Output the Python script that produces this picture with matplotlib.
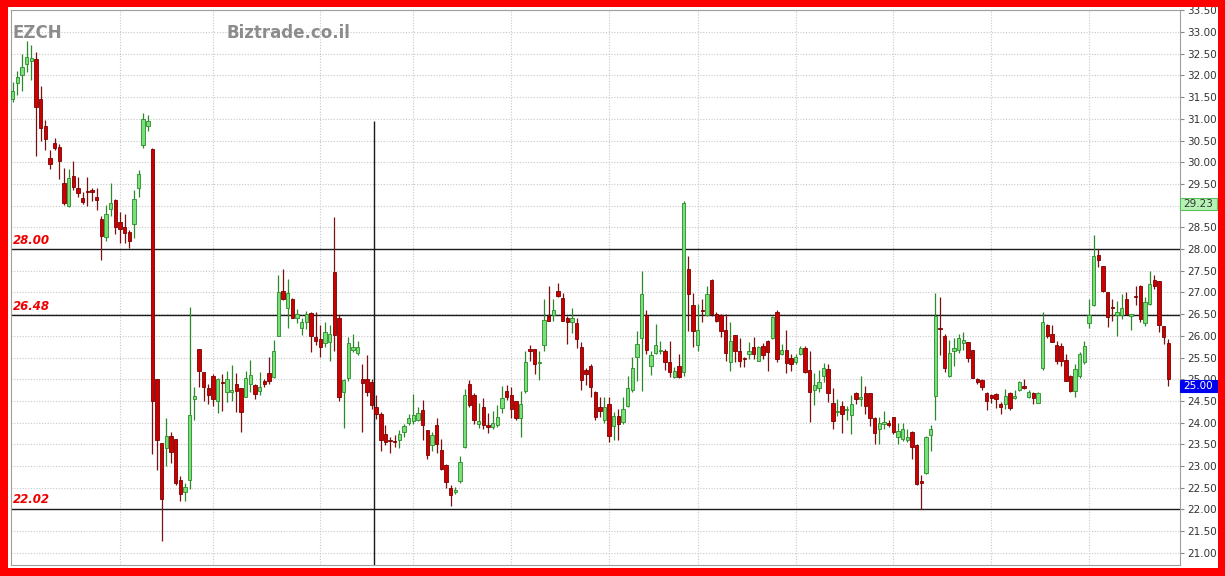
import matplotlib
matplotlib.use("Agg")
import matplotlib.pyplot as plt
from matplotlib.patches import Rectangle
import matplotlib.transforms as mtransforms
import numpy as np

symbol = "EZCH"
site = "Biztrade.co.il"

opens = [31.46,31.83,32.00,32.27,32.34,32.39,31.46,30.84,30.10,30.44, 30.36,29.53,29.00,29.68,29.40,29.18,29.34,29.35,29.19,28.69,
 28.28,28.92,29.13,28.62,28.50,28.39,28.58,29.40,30.39,30.84, 30.31,25.00,23.53,23.41,23.69,23.62,22.68,22.41,22.68,24.55,
 25.70,25.16,24.81,25.07,24.51,24.93,24.70,24.70,24.88,24.81, 24.60,24.90,24.87,24.74,24.97,25.15,25.05,26.00,27.04,26.64,
 26.84,26.40,26.17,26.33,26.53,25.97,25.93,25.83,25.85,27.46, 26.41,24.70,25.02,25.68,25.61,25.01,25.01,24.93,24.37,24.20,
 23.74,23.61,23.57,23.61,23.78,23.99,24.03,24.05,24.30,23.82, 23.49,23.95,23.36,23.02,22.49,22.40,22.65,23.43,24.90,24.64,
 23.97,24.36,23.92,23.90,23.95,24.33,24.74,24.64,24.49,24.10, 24.74,25.69,25.69,25.38,25.80,26.46,26.47,27.04,26.88,26.42,
 26.32,26.29,25.75,25.22,25.31,24.70,24.37,24.06,24.43,23.92, 24.16,24.01,24.39,24.76,25.51,25.94,26.48,25.31,25.61,25.64,
 25.64,25.39,25.05,25.31,25.16,27.55,26.71,25.79,26.59,26.47, 27.29,26.50,26.48,26.14,25.39,26.02,25.66,25.47,25.58,25.74,
 25.43,25.76,25.89,25.94,26.56,25.58,25.68,25.50,25.40,25.58, 25.73,25.22,24.76,24.79,25.08,25.23,24.46,24.25,24.39,24.29,
 24.17,24.68,24.54,24.68,24.68,24.10,23.85,23.97,24.00,24.12, 23.68,23.63,23.60,23.79,23.48,22.66,22.85,23.71,24.62,26.19,
 25.99,25.08,25.65,25.68,25.83,25.85,25.68,25.00,24.99,24.69, 24.64,24.66,24.43,24.43,24.68,24.56,24.76,24.85,24.58,24.69,
 24.46,25.27,26.25,26.04,25.79,25.76,25.45,25.08,24.72,25.07, 25.39,26.30,26.71,27.86,27.60,27.00,26.66,26.48,26.48,26.85,
 26.45,26.91,27.14,26.30,26.73,27.29,27.27,26.22,25.84]

highs = [31.86,32.11,32.49,32.79,32.70,32.53,31.75,30.97,30.29,30.56, 30.42,29.87,29.84,30.04,29.66,29.32,29.66,29.40,29.40,28.77,
 29.02,29.53,29.15,28.85,28.81,28.43,29.36,29.83,31.14,31.10, 30.33,25.01,23.53,24.10,23.79,23.62,22.78,22.62,26.67,24.82,
 25.70,25.16,24.89,25.12,25.03,25.12,25.20,25.32,25.14,24.81, 25.20,25.45,24.90,25.16,25.01,25.51,25.90,27.41,27.55,27.32,
 26.87,26.61,26.40,26.57,26.56,26.54,26.24,26.31,26.24,28.75, 26.48,25.01,25.97,26.04,25.89,25.35,25.55,25.01,24.64,24.24,
 23.94,23.67,23.71,23.82,23.97,24.20,24.66,24.36,24.53,23.84, 23.78,24.10,23.63,23.05,22.57,22.52,23.23,24.77,24.98,24.68,
 24.45,24.57,24.22,24.26,24.41,24.84,24.87,24.82,24.49,24.72, 25.65,25.80,25.69,25.65,26.84,27.15,26.84,27.21,26.98,26.46,
 26.65,26.42,25.85,25.26,25.36,24.72,24.60,24.60,24.58,24.24, 24.32,24.58,25.08,25.51,26.12,27.50,26.60,25.66,26.27,25.87,
 25.70,25.87,25.28,25.58,29.11,27.83,26.99,26.73,26.85,27.14, 27.31,26.54,26.50,26.50,26.33,26.02,25.94,25.51,25.85,25.97,
 25.77,25.83,25.91,26.46,26.60,25.81,26.14,25.58,25.58,25.76, 25.77,25.66,25.14,25.22,25.37,25.35,24.81,24.54,24.50,24.39,
 24.63,24.71,25.08,24.85,24.68,24.12,24.12,24.27,24.06,24.14, 24.00,24.00,23.86,23.81,23.50,22.79,23.70,23.94,26.99,26.89,
 26.04,25.91,25.96,26.04,26.08,25.86,25.68,25.04,25.00,24.71, 24.66,24.68,24.48,24.77,24.71,24.76,24.96,25.00,24.76,24.71,
 24.70,26.55,26.27,26.25,25.87,25.84,25.58,25.10,25.35,25.62, 25.89,26.85,28.32,28.00,27.62,27.02,26.86,26.81,26.96,27.02,
 26.50,27.14,27.17,26.89,27.50,27.40,27.27,26.23,25.93]

lows = [31.39,31.54,31.65,32.07,31.90,30.14,30.50,30.29,29.85,30.28, 29.62,29.02,28.98,29.36,29.19,29.04,29.00,29.11,28.90,27.75,
 28.18,28.77,28.35,28.14,28.14,28.03,28.26,29.19,30.34,30.72, 23.27,22.90,21.27,23.00,23.08,22.56,22.20,22.20,22.48,24.05,
 24.82,24.51,24.43,24.39,24.22,24.28,24.47,24.51,24.24,23.79, 24.59,24.70,24.55,24.63,24.82,24.90,25.03,26.00,26.82,26.17,
 26.40,26.30,26.01,26.16,25.62,25.78,25.51,25.74,25.41,25.66, 24.49,23.87,24.97,25.62,25.55,23.78,24.62,24.32,24.09,23.34,
 23.49,23.31,23.44,23.41,23.67,23.95,23.97,24.03,23.59,23.17, 23.34,23.31,22.90,22.49,22.08,22.36,22.60,23.41,24.36,23.97,
 23.87,23.85,23.77,23.85,23.90,24.22,24.53,24.10,24.06,23.68, 24.68,25.42,25.11,24.98,25.65,26.34,26.34,26.90,26.34,25.82,
 26.07,25.72,24.76,24.87,24.60,24.05,24.14,23.99,23.55,23.61, 23.61,23.97,24.35,24.70,24.97,24.74,25.58,25.10,25.58,25.58,
 25.22,25.05,25.02,25.02,25.08,26.12,25.74,25.66,26.31,26.45, 26.46,26.31,25.97,25.43,25.20,25.39,25.28,25.28,25.47,25.47,
 25.41,25.47,25.20,25.93,25.39,25.56,25.14,25.20,25.35,25.56, 25.14,24.02,24.40,24.70,24.93,24.48,23.86,24.16,23.76,24.06,
 23.73,24.43,24.39,24.20,23.93,23.50,23.50,23.85,23.89,23.73, 23.50,23.58,23.56,23.16,22.56,22.02,22.81,23.35,24.06,25.56,
 25.17,25.06,25.31,25.60,25.68,25.40,25.02,24.89,24.76,24.30, 24.46,24.33,24.20,24.31,24.30,24.54,24.73,24.77,24.56,24.43,
 24.45,25.22,25.94,25.85,25.35,25.31,24.95,24.70,24.58,25.02, 25.35,26.17,26.68,27.58,27.02,26.20,26.35,26.00,26.39,26.48,
 26.14,26.71,26.33,26.23,26.71,27.09,26.08,25.81,24.84]

closes = [31.65,31.97,32.20,32.42,32.41,31.27,30.78,30.53,29.97,30.34, 30.04,29.05,29.64,29.43,29.29,29.08,29.31,29.31,29.14,28.30,
 28.81,29.07,28.50,28.47,28.37,28.18,29.15,29.74,30.99,30.94, 24.50,23.60,22.24,23.69,23.32,22.60,22.35,22.52,24.18,24.61,
 25.18,24.82,24.63,24.55,25.01,24.92,25.00,24.76,24.72,24.24, 25.03,25.10,24.66,24.82,24.88,24.97,25.64,27.01,26.86,26.99,
 26.42,26.51,26.31,26.50,25.99,25.89,25.74,26.10,26.04,26.01, 24.59,24.99,25.84,25.74,25.74,24.92,24.70,24.40,24.20,23.61,
 23.55,23.57,23.56,23.74,23.92,24.10,24.17,24.23,23.94,23.26, 23.72,23.50,22.94,22.63,22.34,22.45,23.10,24.64,24.41,24.05,
 24.03,23.95,23.91,23.99,24.13,24.57,24.59,24.31,24.10,24.44, 25.39,25.65,25.36,25.38,26.36,26.34,26.60,26.92,26.34,26.32,
 26.40,25.92,24.99,25.13,24.82,24.14,24.26,24.37,23.69,24.15, 23.97,24.32,24.81,25.25,25.81,26.96,25.68,25.57,25.79,25.68,
 25.39,25.16,25.20,25.05,29.07,26.96,26.12,26.14,26.58,26.96, 26.50,26.35,26.12,25.61,25.87,25.64,25.43,25.46,25.66,25.58,
 25.74,25.56,25.63,26.43,25.46,25.68,25.37,25.35,25.52,25.73, 25.16,24.70,24.86,24.94,25.27,24.68,24.04,24.28,24.20,24.32,
 24.43,24.54,24.58,24.39,24.10,23.77,24.00,24.02,23.94,23.79, 23.81,23.85,23.66,23.43,22.58,22.62,23.66,23.86,26.45,26.16,
 25.25,25.60,25.73,25.96,25.91,25.50,25.04,24.93,24.83,24.50, 24.56,24.54,24.35,24.62,24.33,24.62,24.93,24.81,24.71,24.56,
 24.68,26.31,25.99,25.86,25.43,25.43,24.97,24.74,25.24,25.58, 25.77,26.47,27.83,27.75,27.04,26.43,26.64,26.54,26.65,26.50,
 26.50,26.89,26.39,26.77,27.19,27.14,26.25,25.97,25.00]

# horizontal support / resistance levels (labelled in red)
levels = [28.00, 26.48, 22.02]
level_labels = ["28.00", "26.48", "22.02"]
# month-start gridlines (candle index)
month_starts = [23, 43, 66, 86, 107, 128, 147, 168, 189, 210, 231]
# vertical marker line (candle index, top value)
marker_x = 77.5
marker_top = 30.95
# right-axis highlighted values
green_tag = 29.23
last_price = 25.00
yticks = np.arange(21.0, 33.51, 0.5)

W, H = 1225, 576
fig = plt.figure(figsize=(W / 100, H / 100), dpi=100)
fig.patch.set_facecolor("white")

ax_l, ax_r, ax_t, ax_b = 10.5, 1180, 9.5, 565
ax = fig.add_axes([ax_l / W, 1 - ax_b / H, (ax_r - ax_l) / W, (ax_b - ax_t) / H])
ax.set_facecolor("white")

n = len(closes)
idx = np.arange(n)
o = np.array(opens); h = np.array(highs); l = np.array(lows); c = np.array(closes)
up = c >= o

ax.set_xlim(-0.47, 250.5)
ax.set_ylim(20.72, 33.52)

# grid
for v in yticks:
    ax.axhline(v, color="#c8c8c8", lw=0.8, ls=(0, (1, 1.5)), zorder=0.5)
for m in month_starts:
    ax.axvline(m, color="#c8c8c8", lw=0.8, ls=(0, (1, 1.5)), zorder=0.5)

# levels
for lv, lab in zip(levels, level_labels):
    ax.axhline(lv, color="#1a1a1a", lw=1.0, zorder=1)
    ax.text(0.0, lv + 0.05, lab, color="#ee0000", fontsize=8.5, fontweight="bold",
            fontstyle="italic", ha="left", va="bottom", zorder=6)

ax.vlines(marker_x, 20.72, marker_top, color="#1a1a1a", lw=1.0, zorder=1)

# candles
green_face, green_edge = "#77e077", "#2a8a2a"
red_face, red_edge = "#cc0000", "#7a0000"
wick_cols = [green_edge if u else "#7a1010" for u in up]
ax.vlines(idx, l, h, colors=wick_cols, lw=0.9, zorder=2)
bottoms = np.minimum(o, c)
heights = np.maximum(np.abs(c - o), 0.025)
ax.bar(idx, heights, bottom=bottoms, width=0.72,
       color=[green_face if u else red_face for u in up],
       edgecolor=[green_edge if u else red_edge for u in up], linewidth=0.6, zorder=3)

# axes styling
for s in ax.spines.values():
    s.set_color("#a0a0a0")
    s.set_linewidth(0.8)
ax.set_xticks([])
ax.yaxis.tick_right()
ax.set_yticks(yticks)
ax.set_yticklabels([f"{v:.2f}" for v in yticks])
ax.tick_params(axis="y", direction="out", length=3, width=0.8, color="#888888",
               labelsize=7.5, labelcolor="#333333", pad=2)

# right-axis tags
trans = mtransforms.blended_transform_factory(ax.transAxes, ax.transData)
tag_w = (1217 - ax_r) / (ax_r - ax_l)
tag_h = 12 / 43.4
g_top = green_tag - 0.05
ax.add_patch(Rectangle((1.0, g_top - tag_h), tag_w, tag_h, transform=trans,
                       facecolor="#b6f2b6", edgecolor="#5cbf5c", lw=0.8, clip_on=False, zorder=6))
ax.text(1.0 + tag_w / 2, g_top - tag_h / 2, f"{green_tag:.2f}", transform=trans,
        ha="center", va="center", fontsize=7.5, color="#333333", zorder=7, clip_on=False)
b_top = last_price - 0.02
ax.add_patch(Rectangle((1.0, b_top - tag_h), tag_w, tag_h, transform=trans,
                       facecolor="#0000ee", edgecolor="#0000ee", lw=0.8, clip_on=False, zorder=6))
ax.text(1.0 + tag_w / 2, b_top - tag_h / 2, f"{last_price:.2f}", transform=trans,
        ha="center", va="center", fontsize=7.5, color="white", zorder=7, clip_on=False)

# titles
fig.text(12 / W, 1 - 33 / H, symbol, color="#8c8c8c", fontsize=12, fontweight="bold",
         ha="left", va="center")
fig.text(227 / W, 1 - 33 / H, site, color="#8c8c8c", fontsize=12, fontweight="bold",
         ha="left", va="center")

# red frame on top
red = "#ff0000"
for (x0, y0, x1, y1) in [(0, 0, 8, H), (0, 0, W, 7), (1218, 0, W, H), (0, 568, W, H)]:
    fig.add_artist(Rectangle((x0 / W, 1 - y1 / H), (x1 - x0) / W, (y1 - y0) / H,
                             transform=fig.transFigure, facecolor=red, edgecolor="none", zorder=20))

fig.savefig("out.png", dpi=100, facecolor=fig.get_facecolor())
